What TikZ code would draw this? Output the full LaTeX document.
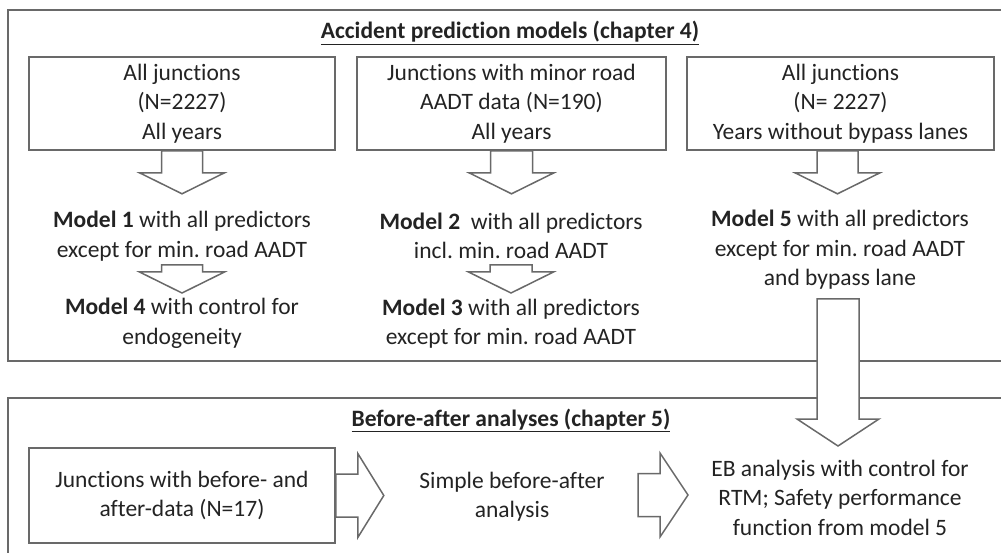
\documentclass[tikz,border=0pt]{standalone}
\usepackage{fontspec}
\setmainfont{Carlito}[Ligatures=NoCommon]
\usepackage{xcolor}
\usepackage{tikz}
\usetikzlibrary{calc, positioning}
\frenchspacing
\definecolor{linegray}{RGB}{105,105,105}
\definecolor{textgray}{RGB}{35,35,35}
\tikzstyle{box}=[rectangle, draw=linegray, line width=1.6pt, minimum width=306, minimum height=93, align=center]
\tikzstyle{frame}=[draw=linegray, line width=1.6pt]
\tikzstyle{fatarrow}=[draw=linegray, fill=white, line width=1.5pt, line join=miter]
\tikzstyle{txt}=[align=center]

% hollow block arrows: start, tip, shaft half width, head half width, head length
\newcommand{\fatdown}[5]{%
  \draw[fatarrow] let \p1=#1, \p2=#2 in
    (\x1-#3,\y1) -- (\x1-#3,\y2+#5) -- (\x1-#4,\y2+#5) -- (\x1,\y2)
    -- (\x1+#4,\y2+#5) -- (\x1+#3,\y2+#5) -- (\x1+#3,\y1) -- cycle;}
\newcommand{\fatright}[5]{%
  \draw[fatarrow] let \p1=#1, \p2=#2 in
    (\x1,\y1+#3) -- (\x2-#5,\y1+#3) -- (\x2-#5,\y1+#4) -- (\x2,\y1)
    -- (\x2-#5,\y1-#4) -- (\x2-#5,\y1-#3) -- (\x1,\y1-#3) -- cycle;}

\begin{document}
\begin{tikzpicture}[x=1pt, y=-1pt]

\tikzset{every node/.style={font=\fontsize{23.5pt}{29.5pt}\selectfont\frenchspacing, text=textgray}}

\useasboundingbox (0,0) rectangle (1001,553);
\clip (0,0) rectangle (1001,553);

% Outer frames
\draw[frame] (8,10) rectangle (1015,361);
\draw[frame] (8,398) rectangle (1015,575);

% Accident prediction models
\node[anchor=base] (apmtitle) at (510,39) {\textbf{\underline{Accident prediction models (chapter 4)}}};

\node[box] (allj) at (182,103.5) {All junctions\\(N=2227)\\All years};
\node[box, minimum width=309] (minj) at (511.5,103.5) {Junctions with minor road\\AADT data (N=190)\\All years};
\node[box, minimum width=307] (bypj) at (840.5,103.5) {All junctions\\(N= 2227)\\Years without bypass lanes};

\node[txt] (mod1) at (182,236) {\textbf{Model 1} with all predictors\\except for min. road AADT};
\node[txt] (mod4) at (182,323.5) {\textbf{Model 4} with control for\\endogeneity};
\node[txt] (mod2) at (511,236) {\textbf{Model 2}\ \ with all predictors\\incl. min. road AADT};
\node[txt] (mod3) at (511,323.5) {\textbf{Model 3} with all predictors\\except for min. road AADT};
\node[txt] (mod5) at (840,250) {\textbf{Model 5} with all predictors\\except for min. road AADT\\and bypass lane};

\fatdown{(allj.south)}{($(allj.south)+(0,43)$)}{20.5pt}{42.5pt}{21pt}
\fatdown{(minj.south)}{($(minj.south)+(0,43)$)}{21pt}{42.5pt}{21pt}
\fatdown{($(bypj.south)+(-3,0)$)}{($(bypj.south)+(-3,43)$)}{20.5pt}{42.5pt}{21pt}
\fatdown{(182,265)}{(182,293)}{20.5pt}{42.5pt}{21pt}
\fatdown{(511,265)}{(511,293)}{21pt}{42.5pt}{21pt}

% Before-after analyses
\node[anchor=base] (batitle) at (511,426) {\textbf{\underline{Before-after analyses (chapter 5)}}};

\node[box, minimum height=95] (jba) at (182,495.5) {Junctions with before- and\\after-data (N=17)};
\node[txt] (simple) at (512,496.5) {Simple before-after\\analysis};
\node[txt] (eb) at (840,497.5) {EB analysis with control for\\RTM; Safety performance\\function from model 5};

\fatright{(jba.east)}{($(jba.east)+(48,0)$)}{21.5pt}{42pt}{26pt}
\fatright{(638,495)}{(688,495)}{21.5pt}{42pt}{28pt}

% Model 5 feeds the EB analysis
\fatdown{(838,299)}{(838,446)}{21pt}{41pt}{27pt}

\end{tikzpicture}
\end{document}
